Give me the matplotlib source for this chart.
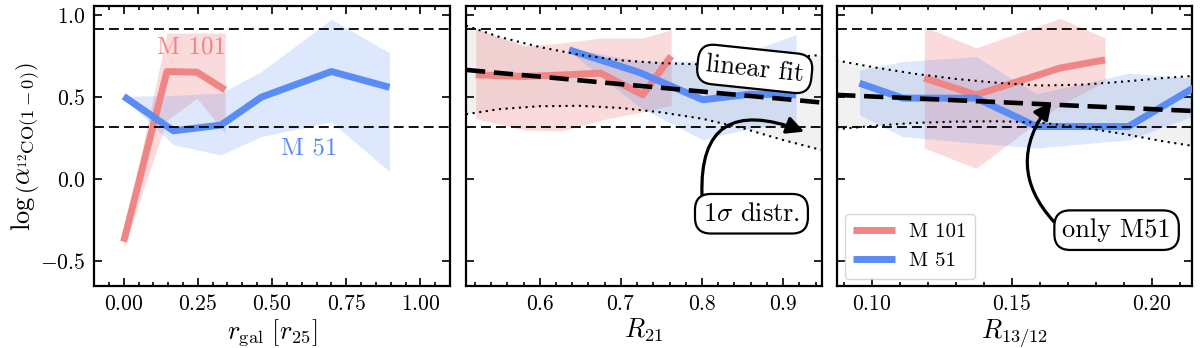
import numpy as np
import matplotlib
matplotlib.use("Agg")
import matplotlib.pyplot as plt
from matplotlib.ticker import MultipleLocator, FuncFormatter

plt.rcParams.update({
    "font.family": "serif",
    "font.serif": ["cmr10", "DejaVu Serif"],
    "mathtext.fontset": "cm",
    "axes.formatter.use_mathtext": True,
    "axes.unicode_minus": True,
})

# ---------------- data ----------------
ylims = (-0.65, 1.055)
hlines = [0.32, 0.913]

# panel 1: r_gal
m101_r = [0.0, 0.146, 0.247, 0.342]
m101_r_y = [-0.38, 0.656, 0.652, 0.544]
m101_r_lo = [-0.42, 0.36, 0.494, 0.28]
m101_r_hi = [-0.34, 0.89, 0.89, 0.89]

m51_r = [0.0, 0.168, 0.328, 0.464, 0.70, 0.896]
m51_r_y = [0.505, 0.295, 0.33, 0.50, 0.656, 0.56]
m51_r_lo = [0.495, 0.21, 0.148, 0.26, 0.35, 0.046]
m51_r_hi = [0.505, 0.51, 0.525, 0.656, 0.974, 0.77]

# panel 2: R21
m101_R21 = [0.521, 0.581, 0.628, 0.675, 0.727, 0.762]
m101_R21_y = [0.636, 0.626, 0.635, 0.646, 0.514, 0.75]
m101_R21_lo = [0.37, 0.30, 0.295, 0.36, 0.41, 0.45]
m101_R21_hi = [0.918, 0.81, 0.83, 0.86, 0.86, 0.91]

m51_R21 = [0.636, 0.723, 0.801, 0.859, 0.916]
m51_R21_y = [0.788, 0.650, 0.484, 0.518, 0.514]
m51_R21_lo = [0.78, 0.44, 0.24, 0.31, 0.34]
m51_R21_hi = [0.80, 0.72, 0.72, 0.78, 0.88]

fit_R21_x = [0.509, 0.55, 0.60, 0.65, 0.70, 0.75, 0.80, 0.85, 0.90, 0.948]
fit_R21_y = [0.666, 0.647, 0.625, 0.602, 0.579, 0.557, 0.534, 0.511, 0.489, 0.467]
fit_R21_hi = [0.936, 0.867, 0.805, 0.757, 0.724, 0.707, 0.699, 0.711, 0.739, 0.757]
fit_R21_lo = [0.396, 0.427, 0.445, 0.447, 0.434, 0.407, 0.369, 0.311, 0.239, 0.177]

# panel 3: R13/12
m101_R13 = [0.1187, 0.1372, 0.1671, 0.1832]
m101_R13_y = [0.616, 0.514, 0.677, 0.727]
m101_R13_lo = [0.19, 0.067, 0.45, 0.595]
m101_R13_hi = [0.929, 0.80, 0.98, 0.86]

m51_R13 = [0.0956, 0.111, 0.1372, 0.1588, 0.1915, 0.225]
m51_R13_y = [0.585, 0.494, 0.494, 0.321, 0.321, 0.66]
m51_R13_lo = [0.392, 0.26, 0.22, 0.19, 0.24, 0.45]
m51_R13_hi = [0.666, 0.717, 0.747, 0.52, 0.646, 0.60]

fit_R13_x = [0.0873, 0.10, 0.115, 0.13, 0.145, 0.16, 0.175, 0.19, 0.205, 0.2145]
fit_R13_y = [0.514, 0.504, 0.493, 0.481, 0.470, 0.458, 0.446, 0.435, 0.423, 0.416]
fit_R13_hi = [0.724, 0.684, 0.643, 0.611, 0.587, 0.571, 0.576, 0.595, 0.618, 0.629]
fit_R13_lo = [0.304, 0.324, 0.343, 0.351, 0.353, 0.345, 0.316, 0.275, 0.228, 0.203]

RED = "#F08585"
BLUE = "#5A8CF5"

fig = plt.figure(figsize=(12, 3.48), dpi=100)
W, H = 1200, 348
def add_ax(l, r, t=6, b=286):
    return fig.add_axes([l / W, 1 - b / H, (r - l) / W, (b - t) / H])

ax1 = add_ax(94, 450)
ax2 = add_ax(466, 822)
ax3 = add_ax(837.3, 1192.3)

def mfmt(fmt):
    def f(v, pos):
        return "$" + (fmt % v) + "$"
    return FuncFormatter(f)

def style(ax, xlim, xmaj, xmin, xlabel, xfmt):
    ax.set_xlim(*xlim)
    ax.set_ylim(*ylims)
    ax.set_yticks([-0.5, 0.0, 0.5, 1.0])
    ax.xaxis.set_major_locator(MultipleLocator(xmaj))
    ax.xaxis.set_minor_locator(MultipleLocator(xmin))
    ax.xaxis.set_major_formatter(mfmt(xfmt))
    ax.yaxis.set_major_formatter(mfmt("%.1f"))
    ax.tick_params(which="both", direction="in", top=True, right=True,
                   labelsize=15.5, width=1.2, pad=6)
    ax.tick_params(which="major", length=5.5)
    ax.tick_params(which="minor", length=3)
    for s in ax.spines.values():
        s.set_linewidth(1.6)
    ax.set_xlabel(xlabel, fontsize=19, labelpad=2)
    for h in hlines:
        ax.axhline(h, color="k", lw=1.3, dashes=(5.5, 2.8), zorder=4)

def series(ax, x, y, lo, hi, color, label=None):
    ax.fill_between(x, lo, hi, color=color, alpha=0.3 if color == RED else 0.2,
                    lw=0, zorder=1)
    ax.plot(x, y, color=color, lw=5, zorder=3, label=label,
            solid_capstyle="butt")

def fit(ax, x, y, lo, hi):
    ax.fill_between(x, lo, hi, color="k", alpha=0.055, lw=0, zorder=0.5)
    ax.plot(x, hi, color="k", lw=1.5, ls=(0, (1, 2.2)), zorder=4)
    ax.plot(x, lo, color="k", lw=1.5, ls=(0, (1, 2.2)), zorder=4)
    ax.plot(x, y, color="k", lw=3.3, dashes=(4.2, 1.9), zorder=5)

# panel 1
style(ax1, (-0.1, 1.1), 0.25, 0.05, r"$r_{\rm gal}\ [r_{25}]$", "%.2f")
series(ax1, m101_r, m101_r_y, m101_r_lo, m101_r_hi, RED)
series(ax1, m51_r, m51_r_y, m51_r_lo, m51_r_hi, BLUE)
ax1.text(0.23, 0.80, "M 101", color=RED, fontsize=18, ha="center", va="center")
ax1.text(0.625, 0.19, "M 51", color=BLUE, fontsize=18, ha="center", va="center")
ax1.set_ylabel(r"$\log\left(\alpha_{{}^{12}\mathrm{CO}(1-0)}\right)$",
               fontsize=19, labelpad=-1)

bbox = dict(boxstyle="round,pad=0.3,rounding_size=0.6", fc="white", ec="k", lw=1.6)

# panel 2
style(ax2, (0.509, 0.948), 0.1, 0.02, r"$R_{21}$", "%.1f")
ax2.set_yticklabels([])
fit(ax2, fit_R21_x, fit_R21_y, fit_R21_lo, fit_R21_hi)
series(ax2, m101_R21, m101_R21_y, m101_R21_lo, m101_R21_hi, RED)
series(ax2, m51_R21, m51_R21_y, m51_R21_lo, m51_R21_hi, BLUE)
ax2.text(0.865, 0.672, "linear fit", fontsize=19, ha="center", va="center",
         rotation=-6, bbox=bbox, zorder=10)
ax2.annotate(r"$1\sigma$ distr.", xy=(0.926, 0.29), xytext=(0.861, -0.21),
             fontsize=19, ha="center", va="center", bbox=bbox, zorder=10,
             arrowprops=dict(arrowstyle="-|>", color="k", lw=2.3,
                             mutation_scale=26, relpos=(0.0, 0.7),
                             connectionstyle="arc3,rad=-0.8", shrinkA=0, shrinkB=0))

# panel 3
style(ax3, (0.0877, 0.2143), 0.05, 0.01, r"$R_{13/12}$", "%.2f")
ax3.set_yticklabels([])
fit(ax3, fit_R13_x, fit_R13_y, fit_R13_lo, fit_R13_hi)
series(ax3, m101_R13, m101_R13_y, m101_R13_lo, m101_R13_hi, RED, "M 101")
series(ax3, m51_R13, m51_R13_y, m51_R13_lo, m51_R13_hi, BLUE, "M 51")
ax3.annotate("only M51", xy=(0.1641, 0.47), xytext=(0.1873, -0.31),
             fontsize=19, ha="center", va="center", bbox=bbox, zorder=10,
             arrowprops=dict(arrowstyle="-|>", color="k", lw=2.3,
                             mutation_scale=26, relpos=(0.0, 0.5),
                             connectionstyle="arc3,rad=-0.45", shrinkA=0, shrinkB=0))
leg = ax3.legend(loc="lower left", fontsize=15, handlelength=2.0,
                 handletextpad=0.7, frameon=True, fancybox=True, borderpad=0.4,
                 borderaxespad=0.35)
leg.get_frame().set_edgecolor("0.8")
leg.set_zorder(11)

fig.savefig("out.png", dpi=100)
